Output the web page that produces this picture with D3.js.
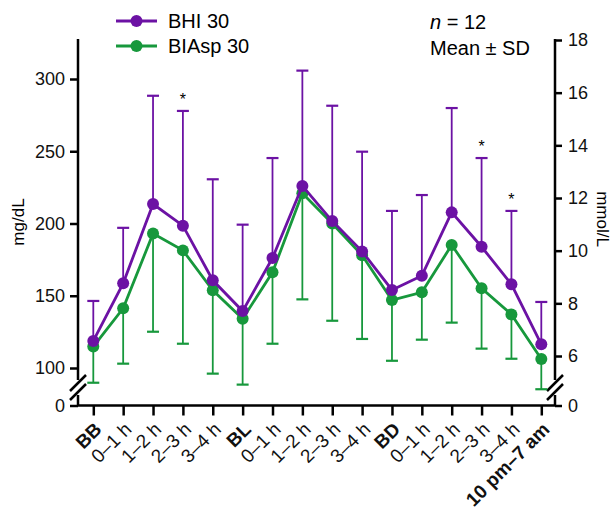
<!DOCTYPE html>
<head>
    <meta charset="utf-8">
    <script src="https://cdn.jsdelivr.net/npm/d3@7"></script>
    <style type="text/css">
        body { margin: 0; background: #fff; }
        svg { display: block; font-family: "Liberation Sans", Arial, sans-serif; }
        .axis text { font-size: 18px; fill: #111; }
        .axis line { stroke: #000; stroke-width: 2.5px; }
        .axis path { display: none; }
        .xaxis text { font-size: 19px; }
    </style>
</head>
<body>
    <div id="chart"></div>
</body>
</html>

<script type="text/javascript">
    // x categories (meal blocks)
    var labels = ["BB", "0–1 h", "1–2 h", "2–3 h", "3–4 h",
                  "BL", "0–1 h", "1–2 h", "2–3 h", "3–4 h",
                  "BD", "0–1 h", "1–2 h", "2–3 h", "3–4 h", "10 pm–7 am"];
    var boldLabels = ["BB", "BL", "BD", "10 pm–7 am"];

    // BHI 30, mean and SD (mg/dL)
    var bhiMean = [118.7, 158.6, 213.5, 198.5, 160.7, 139.4, 176.1, 226, 201.7, 180.7, 154, 163.9, 207.7, 183.9, 157.9, 116.4];
    var bhiSD   = [27.7, 38.4, 74.9, 79.4, 69.9, 59.8, 69.2, 79.8, 79.8, 69, 54.7, 55.8, 72.2, 61.4, 50.8, 29.3];

    // BIAsp 30, mean and SD (mg/dL)
    var biaspMean = [114.8, 141.3, 193, 181.4, 153.8, 134.1, 166.2, 220.9, 200, 178, 147, 152.4, 185.1, 155.2, 137.1, 106.2];
    var biaspSD   = [25, 38.3, 67.9, 64.6, 57.7, 45.6, 49.4, 73.4, 67.3, 57.9, 42, 32.8, 53.7, 41.8, 30.7, 20.9];

    // significance marks
    var stars = [3, 13, 14];

    var leftTicks = [100, 150, 200, 250, 300];
    var rightTicks = [6, 8, 10, 12, 14, 16, 18];

    var purple = "#6c12a4", green = "#17983c";
    var width = 612, height = 509;

    var svg = d3.select("#chart").append("svg")
        .attr("width", width)
        .attr("height", height);

    var x = d3.scalePoint()
        .domain(d3.range(labels.length))
        .range([93.3, 541.3]);

    var y = d3.scaleLinear().domain([100, 300]).range([368, 79]);
    var yR = d3.scaleLinear().domain([6, 18]).range([356, 40]);
    var yZero = d3.scaleLinear().domain([0, 1]).range([405.5, 300]);

    var xL = 78, xR = 555, y0 = 405.5;

    // Left axis
    var gl = svg.append("g").attr("class", "axis").attr("transform", "translate(" + xL + ",0)");
    gl.call(d3.axisLeft(y).tickValues(leftTicks).tickSize(8).tickPadding(5));
    var gl0 = svg.append("g").attr("class", "axis").attr("transform", "translate(" + xL + ",0)");
    gl0.call(d3.axisLeft(yZero).tickValues([0]).tickFormat(d3.format("d")).tickSize(8).tickPadding(5));

    // Right axis
    var gr = svg.append("g").attr("class", "axis").attr("transform", "translate(" + xR + ",0)");
    gr.call(d3.axisRight(yR).tickValues(rightTicks).tickSize(7).tickPadding(6));
    var gr0 = svg.append("g").attr("class", "axis").attr("transform", "translate(" + xR + ",0)");
    gr0.call(d3.axisRight(yZero).tickValues([0]).tickFormat(d3.format("d")).tickSize(7).tickPadding(6));

    // vertical axis lines with break
    [xL, xR].forEach(function(ax) {
        svg.append("line").attr("x1", ax).attr("x2", ax).attr("y1", 39).attr("y2", 380)
            .attr("stroke", "#000").attr("stroke-width", 2.5);
        svg.append("line").attr("x1", ax).attr("x2", ax).attr("y1", 395).attr("y2", y0)
            .attr("stroke", "#000").attr("stroke-width", 2.5);
        [383, 392].forEach(function(cy) {
            svg.append("line")
                .attr("x1", ax - 8).attr("y1", cy + 8)
                .attr("x2", ax + 8).attr("y2", cy - 8)
                .attr("stroke", "#000").attr("stroke-width", 2.5);
        });
    });

    // Bottom axis
    var gx = svg.append("g").attr("class", "axis xaxis").attr("transform", "translate(0," + y0 + ")");
    gx.call(d3.axisBottom(x).tickSize(10).tickFormat(function(i) { return labels[i]; }));
    gx.selectAll("text")
        .attr("text-anchor", "end")
        .attr("dy", null)
        .attr("y", 0)
        .attr("transform", "translate(9,25) rotate(-45)")
        .style("font-weight", function(i) { return boldLabels.indexOf(labels[i]) >= 0 ? "bold" : "normal"; });
    svg.append("line").attr("x1", xL - 1).attr("x2", xR + 1).attr("y1", y0).attr("y2", y0)
        .attr("stroke", "#000").attr("stroke-width", 2.5);

    // axis titles
    svg.append("text")
        .attr("transform", "translate(24,222) rotate(-90)")
        .attr("text-anchor", "middle")
        .style("font-size", "17px")
        .text("mg/dL");
    svg.append("text")
        .attr("transform", "translate(597,219) rotate(90)")
        .attr("text-anchor", "middle")
        .style("font-size", "17px")
        .text("mmol/L");

    function drawSeries(mean, sd, color, dir) {
        var g = svg.append("g");
        // error bars (one-sided)
        var bars = g.selectAll(".bar").data(mean).enter().append("g");
        bars.append("line")
            .attr("x1", function(d, i) { return x(i); })
            .attr("x2", function(d, i) { return x(i); })
            .attr("y1", function(d) { return y(d); })
            .attr("y2", function(d, i) { return y(d + dir * sd[i]); })
            .attr("stroke", color).attr("stroke-width", 1.8);
        bars.append("line")
            .attr("x1", function(d, i) { return x(i) - 6; })
            .attr("x2", function(d, i) { return x(i) + 6; })
            .attr("y1", function(d, i) { return y(d + dir * sd[i]); })
            .attr("y2", function(d, i) { return y(d + dir * sd[i]); })
            .attr("stroke", color).attr("stroke-width", 2.2);
        return g;
    }

    function drawLine(mean, color) {
        var line = d3.line()
            .x(function(d, i) { return x(i); })
            .y(function(d) { return y(d); });
        svg.append("path")
            .datum(mean)
            .attr("d", line)
            .attr("fill", "none")
            .attr("stroke", color)
            .attr("stroke-width", 2.8);
        svg.append("g").selectAll("circle").data(mean).enter().append("circle")
            .attr("cx", function(d, i) { return x(i); })
            .attr("cy", function(d) { return y(d); })
            .attr("r", 6)
            .attr("fill", color);
    }

    drawSeries(biaspMean, biaspSD, green, -1);
    drawSeries(bhiMean, bhiSD, purple, 1);
    drawLine(biaspMean, green);
    drawLine(bhiMean, purple);

    // stars
    svg.selectAll(".star").data(stars).enter().append("text")
        .attr("x", function(i) { return x(i); })
        .attr("y", function(i) { return y(bhiMean[i] + bhiSD[i]) - 6; })
        .attr("text-anchor", "middle")
        .style("font-size", "16px")
        .text("*");

    // legend
    var legend = svg.append("g");
    [["BHI 30", purple, 21], ["BIAsp 30", green, 46]].forEach(function(e) {
        legend.append("line").attr("x1", 116).attr("x2", 157).attr("y1", e[2]).attr("y2", e[2])
            .attr("stroke", e[1]).attr("stroke-width", 2.8);
        legend.append("circle").attr("cx", 136.5).attr("cy", e[2]).attr("r", 6).attr("fill", e[1]);
        legend.append("text").attr("x", 168).attr("y", e[2] + 7)
            .style("font-size", "20px").text(e[0]);
    });

    var note = svg.append("text").attr("x", 430).attr("y", 29).style("font-size", "20px");
    note.append("tspan").style("font-style", "italic").text("n");
    note.append("tspan").text(" = 12");
    svg.append("text").attr("x", 430).attr("y", 55).style("font-size", "20px").text("Mean ± SD");
</script>
